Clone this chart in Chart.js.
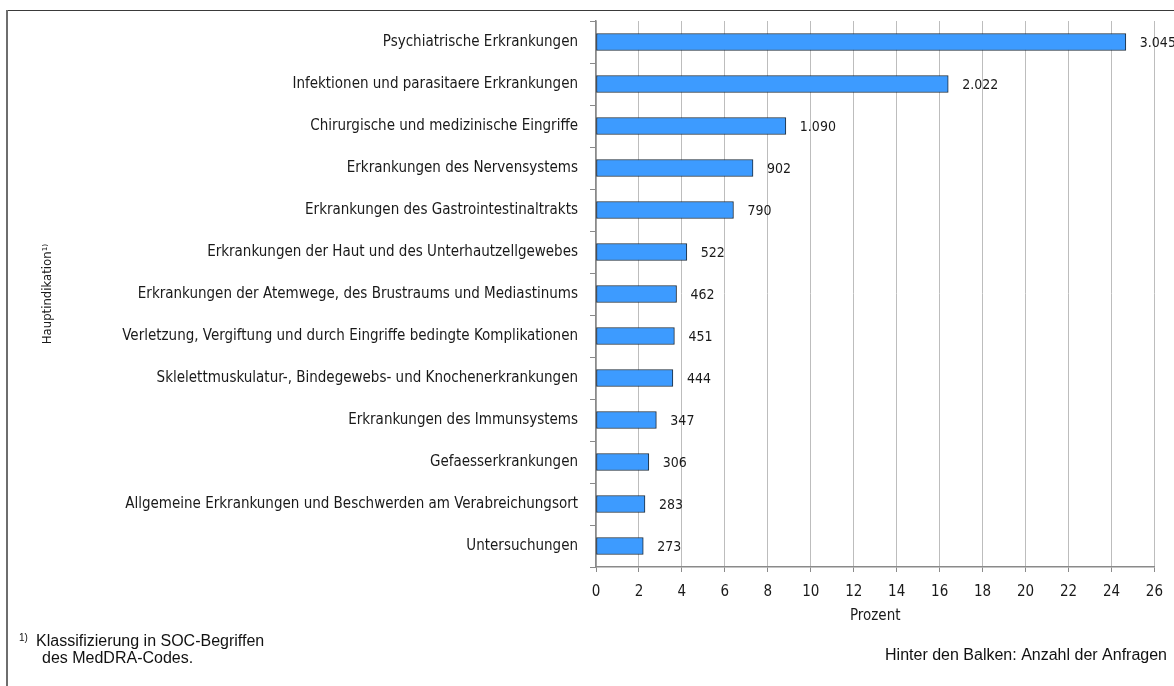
<!DOCTYPE html>
<html lang="de">
<head>
<meta charset="utf-8">
<title>Anfragen nach Hauptindikation</title>
<script src="https://cdn.jsdelivr.net/npm/chart.js@4/dist/chart.umd.min.js"></script>
<style>
  html, body { margin: 0; padding: 0; background: #ffffff; }
  #wrap { width: 1174px; height: 686px; position: relative; }
</style>
</head>
<body>
<div id="wrap"><canvas id="chart" width="1174" height="686"></canvas></div>
<script>
// Hauptindikation (SOC-Begriffe), sorted by share
const categories = [
  "Psychiatrische Erkrankungen",
  "Infektionen und parasitaere Erkrankungen",
  "Chirurgische und medizinische Eingriffe",
  "Erkrankungen des Nervensystems",
  "Erkrankungen des Gastrointestinaltrakts",
  "Erkrankungen der Haut und des Unterhautzellgewebes",
  "Erkrankungen der Atemwege, des Brustraums und Mediastinums",
  "Verletzung, Vergiftung und durch Eingriffe bedingte Komplikationen",
  "Sklelettmuskulatur-, Bindegewebs- und Knochenerkrankungen",
  "Erkrankungen des Immunsystems",
  "Gefaesserkrankungen",
  "Allgemeine Erkrankungen und Beschwerden am Verabreichungsort",
  "Untersuchungen"
];

// Anteil an allen Anfragen in Prozent
const percentValues = [24.67, 16.40, 8.84, 7.31, 6.40, 4.23, 3.75, 3.65, 3.58, 2.81, 2.46, 2.28, 2.20];

// Anzahl der Anfragen (shown behind each bar)
const requestCounts = [3045, 2022, 1090, 902, 790, 522, 462, 451, 444, 347, 306, 283, 273];

// x axis ticks
const xTickValues = [0, 2, 4, 6, 8, 10, 12, 14, 16, 18, 20, 22, 24, 26];

const labelFont = "'DejaVu Sans Condensed', 'Open Sans', sans-serif";
const noteFont = "'Liberation Sans', Arial, sans-serif";

function formatCount(n) {
  return String(n).replace(/\B(?=(\d{3})+(?!\d))/g, ".");
}

// Frame, footnotes and value labels
const decorations = {
  id: "decorations",
  beforeDraw(chart) {
    const ctx = chart.ctx;
    ctx.save();
    ctx.fillStyle = "#ffffff";
    ctx.fillRect(0, 0, chart.width, chart.height);
    ctx.restore();
  },
  afterDatasetsDraw(chart) {
    const ctx = chart.ctx;
    const meta = chart.getDatasetMeta(0);
    ctx.save();
    ctx.font = "14px " + labelFont;
    ctx.fillStyle = "#1a1a1a";
    ctx.textAlign = "left";
    ctx.textBaseline = "middle";
    meta.data.forEach((bar, i) => {
      ctx.fillText(formatCount(requestCounts[i]), bar.x + 14, bar.y + 1);
    });
    ctx.restore();
  },
  afterDraw(chart) {
    const ctx = chart.ctx;
    ctx.save();
    // outer frame (top and left edges)
    ctx.strokeStyle = "#3a3a3a";
    ctx.lineWidth = 1;
    ctx.beginPath();
    ctx.moveTo(6, 10.5);
    ctx.lineTo(chart.width, 10.5);
    ctx.stroke();
    ctx.strokeStyle = "#6e6e6e";
    ctx.lineWidth = 2;
    ctx.beginPath();
    ctx.moveTo(7, 10);
    ctx.lineTo(7, chart.height);
    ctx.stroke();

    // footnote
    ctx.fillStyle = "#111111";
    ctx.textBaseline = "middle";
    ctx.textAlign = "left";
    ctx.font = "10px " + noteFont;
    ctx.fillText("1)", 19, 638);
    ctx.font = "16px " + noteFont;
    ctx.fillText("Klassifizierung in SOC-Begriffen", 36, 642);
    ctx.fillText("des MedDRA-Codes.", 42, 659);

    // note on the right
    ctx.textAlign = "right";
    ctx.fillText("Hinter den Balken: Anzahl der Anfragen", 1167, 656);
    ctx.restore();
  }
};

const ctx = document.getElementById("chart").getContext("2d");
new Chart(ctx, {
  type: "bar",
  data: {
    labels: categories,
    datasets: [{
      data: percentValues,
      backgroundColor: "#3d9bff",
      borderColor: "#1d2b3a",
      borderWidth: 1,
      borderSkipped: false,
      barThickness: 17
    }]
  },
  options: {
    indexAxis: "y",
    responsive: false,
    animation: false,
    devicePixelRatio: 1,
    layout: { padding: { left: 40, right: 19, top: 20, bottom: 0 } },
    plugins: {
      legend: { display: false },
      tooltip: { enabled: false }
    },
    scales: {
      x: {
        type: "linear",
        min: 0,
        max: 26,
        afterBuildTicks(scale) {
          scale.ticks = xTickValues.map(v => ({ value: v }));
        },
        afterFit(scale) { scale.height = 686 - 567; },
        grid: {
          color: "#bdbdbd",
          lineWidth: 1,
          drawTicks: true,
          tickLength: 5,
          tickColor: "#8a8a8a"
        },
        border: { display: true, color: "#8a8a8a", width: 1.5 },
        ticks: {
          color: "#1a1a1a",
          font: { family: labelFont, size: 15 },
          padding: 11,
          maxRotation: 0
        },
        title: {
          display: true,
          text: "Prozent",
          color: "#1a1a1a",
          font: { family: labelFont, size: 15 },
          padding: { top: 0, bottom: 61 }
        }
      },
      y: {
        type: "category",
        afterFit(scale) { scale.width = 596 - 40; },
        grid: {
          offset: true,
          drawOnChartArea: false,
          drawTicks: true,
          tickLength: 6,
          tickColor: "#8a8a8a"
        },
        border: { display: true, color: "#8a8a8a", width: 1.5 },
        ticks: {
          color: "#1a1a1a",
          font: { family: labelFont, size: 15 },
          padding: 12,
          autoSkip: false
        },
        title: {
          display: true,
          text: "Hauptindikation¹⁾",
          color: "#1a1a1a",
          font: { family: labelFont, size: 13 },
          padding: { top: 0, bottom: 0 }
        }
      }
    }
  },
  plugins: [decorations]
});
</script>
</body>
</html>
